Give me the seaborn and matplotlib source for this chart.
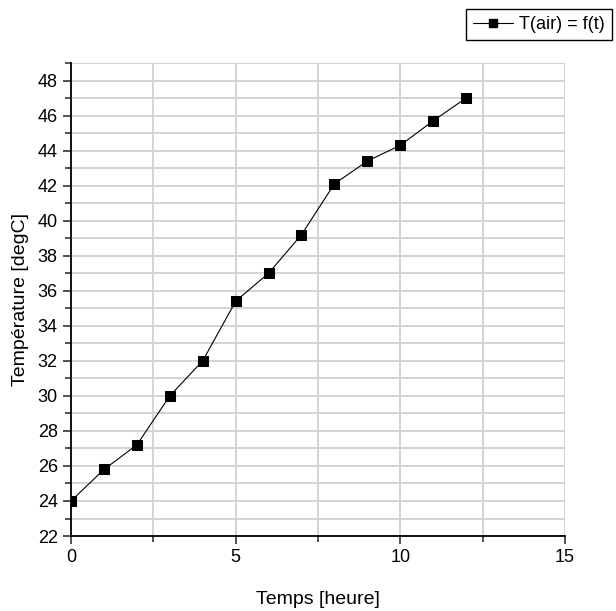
import pandas as pd
import seaborn as sns
import matplotlib.pyplot as plt
from matplotlib.ticker import MultipleLocator

# donnees
temps = [0, 1, 2, 3, 4, 5, 6, 7, 8, 9, 10, 11, 12]
temperature = [24.0, 25.8, 27.2, 30.0, 32.0, 35.4, 37.0, 39.2, 42.1, 43.4, 44.3, 45.7, 47.0]
serie = "T(air) = f(t)"

if __name__ == "__main__":
    df = pd.DataFrame({"Temps [heure]": temps, "Température [degC]": temperature, "serie": serie})

    sns.set_style("white")
    plt.rcParams['font.family'] = ['Liberation Sans Narrow', 'Liberation Sans', 'DejaVu Sans']
    plt.rcParams['text.color'] = 'black'
    plt.rcParams['axes.labelcolor'] = 'black'
    plt.rcParams['xtick.color'] = 'black'
    plt.rcParams['ytick.color'] = 'black'

    fig = plt.figure(figsize=(6.16, 6.11), dpi=100)
    ax = fig.add_axes([0.1153, 0.1227, 0.8017, 0.7742])

    sns.lineplot(data=df, x="Temps [heure]", y="Température [degC]", hue="serie", palette=["black"],
                 marker="s", markersize=7.5, markeredgecolor="black", linewidth=0.8, ax=ax, legend=False)

    ax.set_xlim(0, 15)
    ax.set_ylim(22, 49)
    ax.xaxis.set_major_locator(MultipleLocator(5))
    ax.xaxis.set_minor_locator(MultipleLocator(2.5))
    ax.yaxis.set_major_locator(MultipleLocator(2))
    ax.yaxis.set_minor_locator(MultipleLocator(1))
    ax.grid(True, which="both", color="#d3d3d3", linewidth=1.4)
    ax.set_axisbelow(True)

    for s in ["top", "right"]:
        ax.spines[s].set_visible(False)
    for s in ["left", "bottom"]:
        ax.spines[s].set_color("black")
        ax.spines[s].set_linewidth(1.3)

    ax.tick_params(which="major", direction="out", length=6, width=1.2, labelsize=13, bottom=True, left=True)
    ax.tick_params(which="minor", direction="out", length=4, width=1.2, bottom=True, left=True)
    ax.tick_params(which="both", color="#333333")
    ax.set_xlabel("Temps [heure]", fontsize=14, labelpad=18)
    ax.set_ylabel("Température [degC]", fontsize=14, labelpad=6)

    # legende en haut a droite, coupee par le bord comme sur l'original
    handle = plt.Line2D([], [], color="black", marker="s", markersize=6, linewidth=0.8)
    fig.legend([handle], [serie], loc="upper left", bbox_to_anchor=(466 / 616, 1 - 9 / 611),
               fontsize=13, frameon=True, fancybox=False, edgecolor="black", framealpha=1,
               handlelength=2.2, borderpad=0.4, handletextpad=0.35, borderaxespad=0)

    fig.savefig("out.png", dpi=100)
    plt.close()
